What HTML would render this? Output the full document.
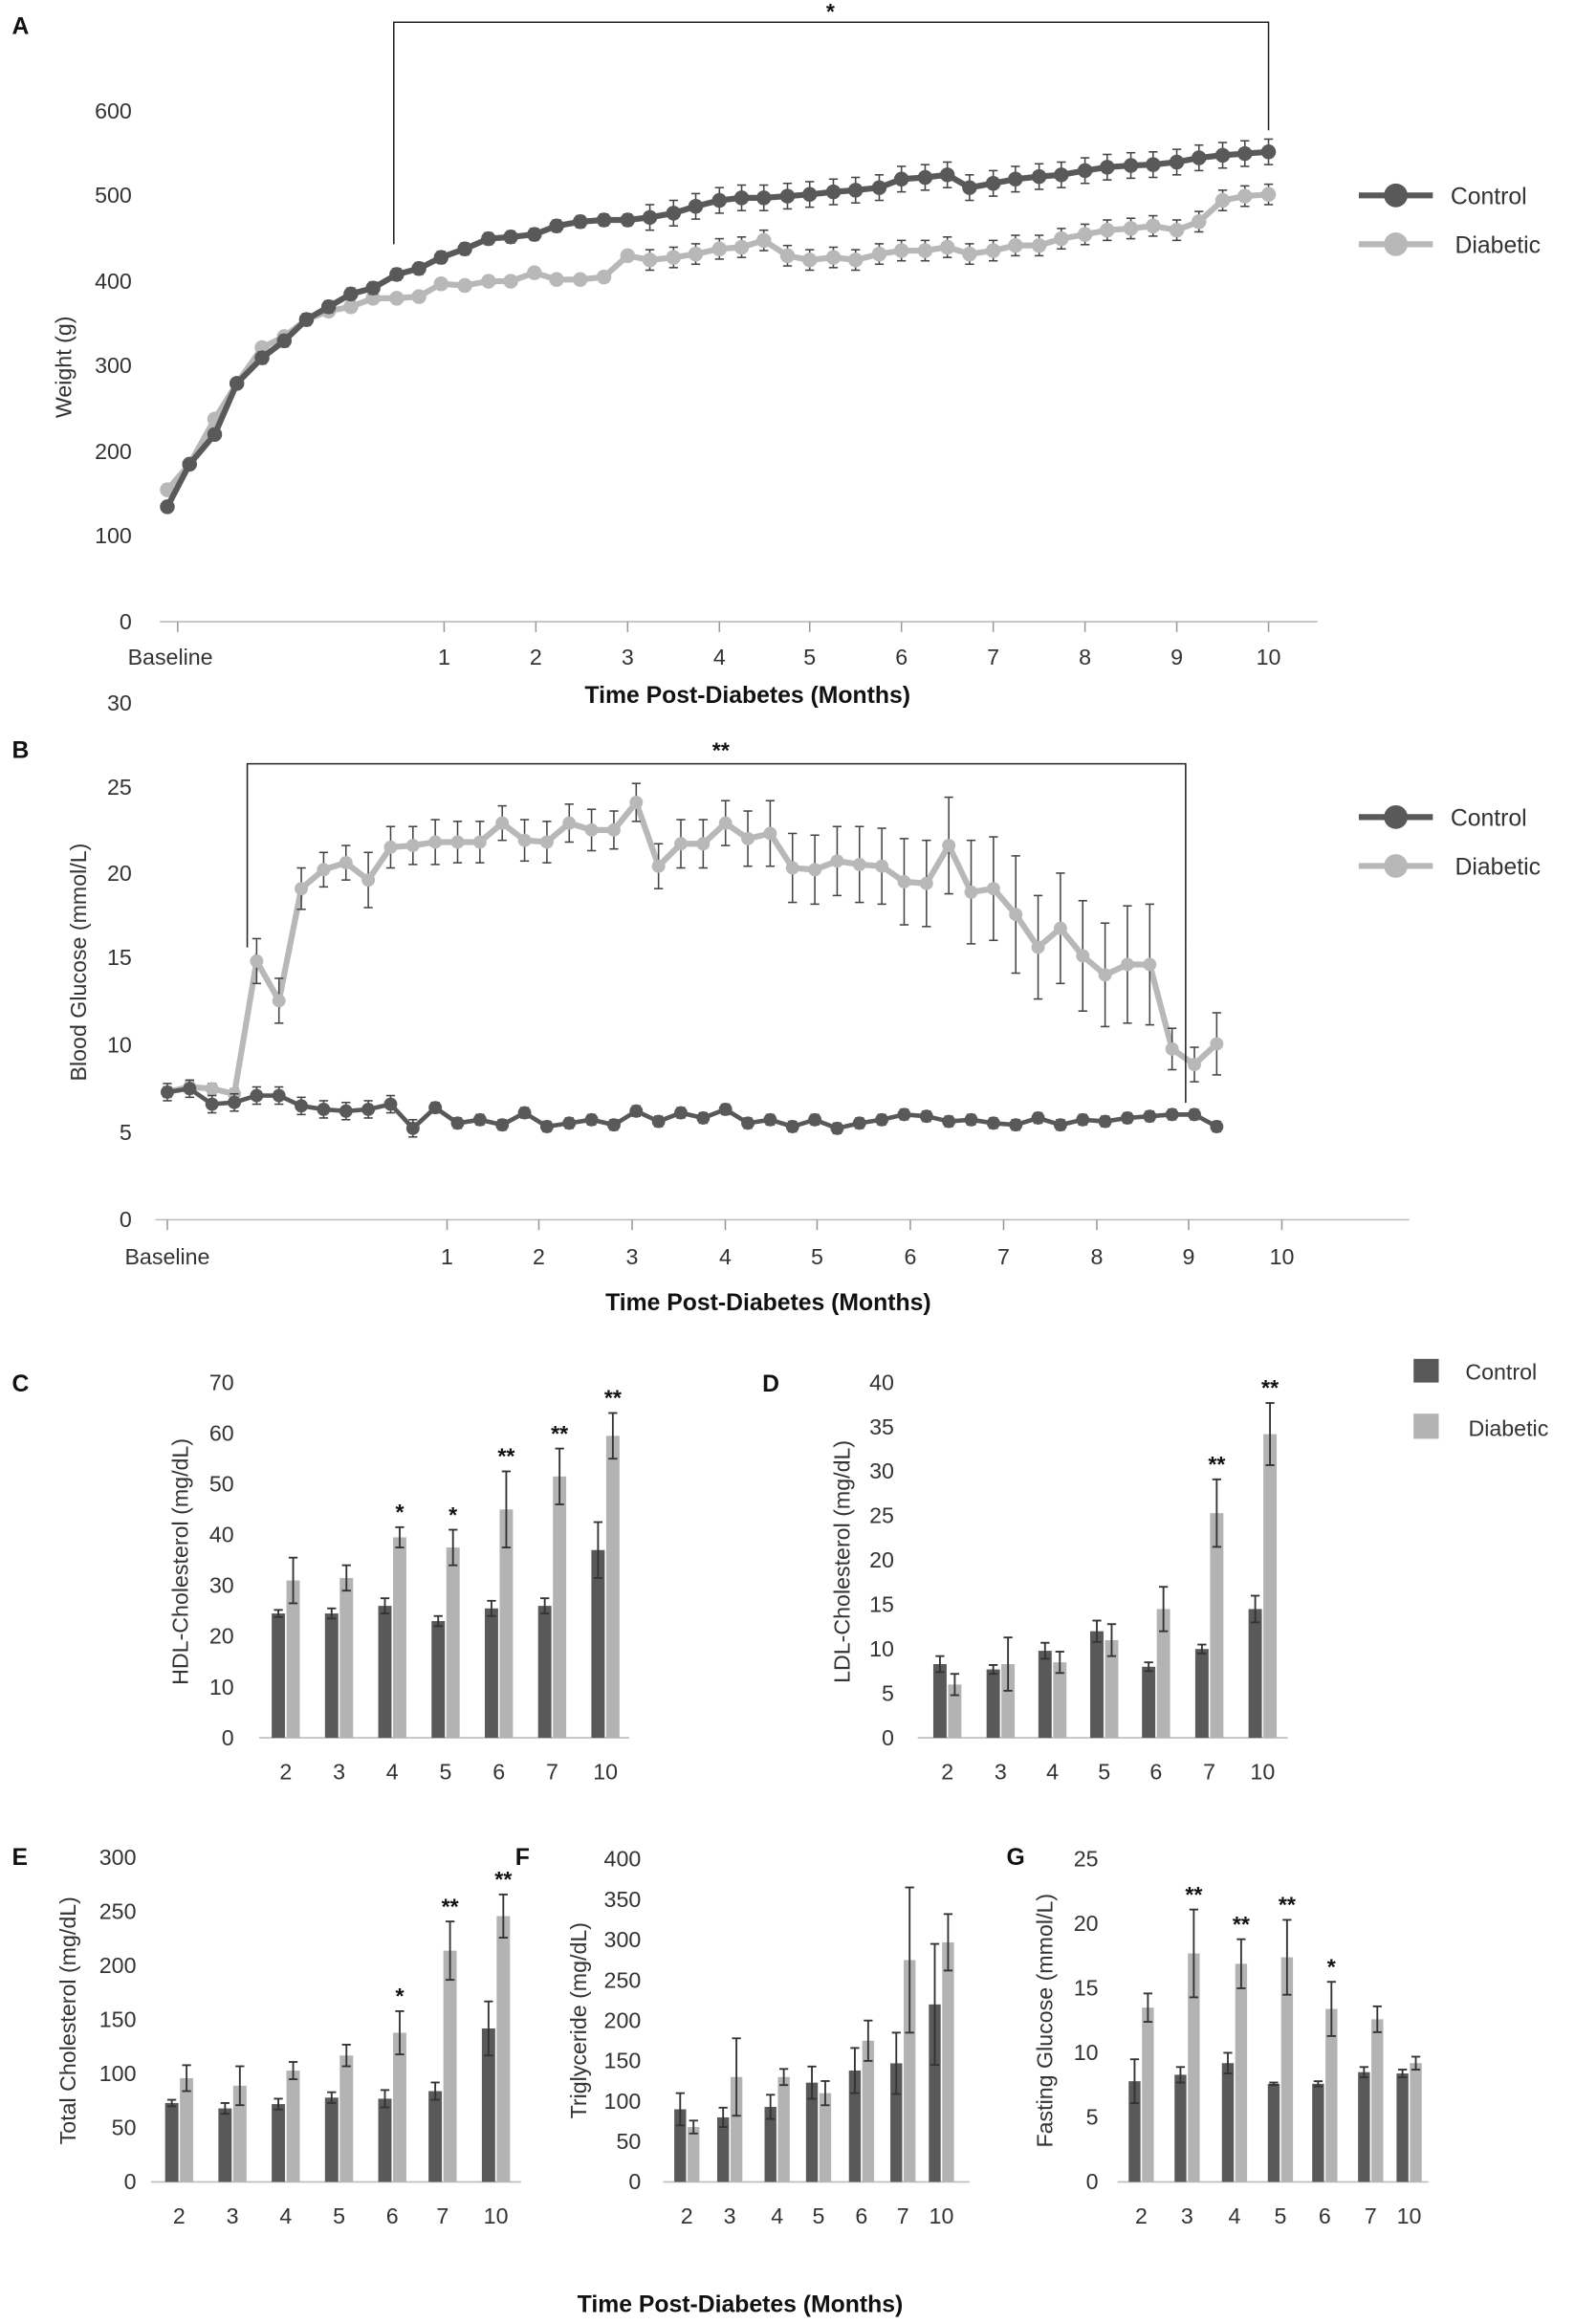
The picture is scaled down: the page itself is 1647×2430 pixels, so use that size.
<!DOCTYPE html>
<html><head><meta charset="utf-8"><style>
html,body{margin:0;padding:0;background:#fff}
svg{display:block}
text{font-family:"Liberation Sans",Arial,sans-serif;fill:#333}
.t{font-size:15px}
.b{font-weight:bold;fill:#111}
</style></head><body>
<svg id="s" width="1647" height="2430" viewBox="0 0 1064 1570" xmlns="http://www.w3.org/2000/svg">
<rect width="1064" height="1570" fill="#fff"/>
<g id="g"></g>
<text x="8" y="23" class="b" font-size="16">A</text>
<text x="8" y="512" class="b" font-size="16">B</text>
<text x="8" y="940" class="b" font-size="16">C</text>
<text x="515" y="940" class="b" font-size="16">D</text>
<text x="8" y="1260" class="b" font-size="16">E</text>
<text x="348" y="1260" class="b" font-size="16">F</text>
<text x="680" y="1260" class="b" font-size="16">G</text>
<g class="t" text-anchor="end">
<text x="89" y="80">600</text><text x="89" y="137">500</text><text x="89" y="195">400</text><text x="89" y="252">300</text><text x="89" y="310">200</text><text x="89" y="367">100</text><text x="89" y="425">0</text>
</g>
<text class="t" transform="translate(48,248) rotate(-90)" text-anchor="middle">Weight (g)</text>
<g class="t" text-anchor="middle">
<text x="115" y="449">Baseline</text><text x="300" y="449">1</text><text x="362" y="449">2</text><text x="424" y="449">3</text><text x="486" y="449">4</text><text x="547" y="449">5</text><text x="609" y="449">6</text><text x="671" y="449">7</text><text x="733" y="449">8</text><text x="795" y="449">9</text><text x="857" y="449">10</text>
</g>
<text x="505" y="475" class="b" font-size="16" text-anchor="middle">Time Post-Diabetes (Months)</text>
<path d="M266 165V15H857V88" fill="none" stroke="#222" stroke-width="1"/>
<text x="561" y="13" class="b" font-size="15" text-anchor="middle">*</text>
<g class="t"><text x="980" y="138" font-size="16">Control</text><text x="983" y="171" font-size="16">Diabetic</text></g>
<line x1="918" y1="132" x2="968" y2="132" stroke="#595959" stroke-width="4"/><circle cx="943" cy="132" r="8" fill="#595959"/>
<line x1="918" y1="165" x2="968" y2="165" stroke="#b8b8b8" stroke-width="4"/><circle cx="943" cy="165" r="8" fill="#b8b8b8"/>
<g class="t" text-anchor="end">
<text x="89" y="480">30</text><text x="89" y="537">25</text><text x="89" y="595">20</text><text x="89" y="652">15</text><text x="89" y="711">10</text><text x="89" y="770">5</text><text x="89" y="829">0</text>
</g>
<text class="t" transform="translate(58,650) rotate(-90)" text-anchor="middle">Blood Glucose (mmol/L)</text>
<g class="t" text-anchor="middle">
<text x="113" y="854">Baseline</text><text x="302" y="854">1</text><text x="364" y="854">2</text><text x="427" y="854">3</text><text x="490" y="854">4</text><text x="552" y="854">5</text><text x="615" y="854">6</text><text x="678" y="854">7</text><text x="741" y="854">8</text><text x="803" y="854">9</text><text x="866" y="854">10</text>
</g>
<text x="519" y="885" class="b" font-size="16" text-anchor="middle">Time Post-Diabetes (Months)</text>
<path d="M167 640V516H801V745" fill="none" stroke="#222" stroke-width="1"/>
<text x="487" y="512" class="b" font-size="15" text-anchor="middle">**</text>
<g class="t"><text x="980" y="558" font-size="16">Control</text><text x="983" y="591" font-size="16">Diabetic</text></g>
<line x1="918" y1="552" x2="968" y2="552" stroke="#595959" stroke-width="4"/><circle cx="943" cy="552" r="8" fill="#595959"/>
<line x1="918" y1="585" x2="968" y2="585" stroke="#b8b8b8" stroke-width="4"/><circle cx="943" cy="585" r="8" fill="#b8b8b8"/>
<rect x="955" y="918" width="17" height="16" fill="#595959"/><rect x="955" y="955" width="17" height="17" fill="#b3b3b3"/>
<text x="990" y="932" class="t" font-size="16">Control</text><text x="992" y="970" class="t" font-size="16">Diabetic</text>
<text class="t" transform="translate(127,1055) rotate(-90)" text-anchor="middle">HDL-Cholesterol (mg/dL)</text>
<text class="t" transform="translate(574,1055) rotate(-90)" text-anchor="middle">LDL-Cholesterol (mg/dL)</text>
<text class="t" transform="translate(51,1365) rotate(-90)" text-anchor="middle">Total Cholesterol (mg/dL)</text>
<text class="t" transform="translate(396,1365) rotate(-90)" text-anchor="middle">Triglyceride (mg/dL)</text>
<text class="t" transform="translate(711,1365) rotate(-90)" text-anchor="middle">Fasting Glucose  (mmol/L)</text>
<text x="500" y="1562" class="b" font-size="16" text-anchor="middle">Time Post-Diabetes (Months)</text>
</svg>
<script>
var g=document.getElementById('g'),NS='http://www.w3.org/2000/svg';
function el(t,a,txt){var e=document.createElementNS(NS,t);for(var k in a)e.setAttribute(k,a[k]);if(txt!=null)e.textContent=txt;g.appendChild(e);return e;}
function line(x1,y1,x2,y2,c,w){el('line',{x1:x1,y1:y1,x2:x2,y2:y2,stroke:c,'stroke-width':w||1});}
line(108,420,890,420,'#bbb',1);
[120,300,362,424,486,547,609,671,733,795,857].forEach(function(x){line(x,420,x,427,'#999',1)});
function ay(v){return 420-v*0.575;}
var cA=[[113,135],[128,185],[145,220],[160,280],[177,310],[192,330],[207,355],[222,370],[237,385],[252,392],[268,408],[283,415],[298,428],[314,438],[330,450],[345,452],[361,455],[376,465],[392,470],[408,472],[424,472],[439,475],[455,480],[470,488],[486,495],[501,498],[516,498],[532,500],[547,502],[563,505],[578,507],[594,510],[609,520],[625,522],[640,525],[655,510],[671,515],[686,520],[702,523],[717,525],[733,530],[748,534],[764,536],[779,537],[795,540],[810,545],[826,548],[841,550],[857,552]];
var dA=[[113,155],[128,185],[145,238],[160,280],[177,322],[192,335],[207,355],[222,365],[237,370],[252,380],[268,380],[283,382],[298,397],[314,395],[330,400],[345,400],[361,410],[376,402],[392,402],[408,405],[424,430],[439,425],[455,428],[470,432],[486,438],[501,440],[516,448],[532,430],[547,425],[563,428],[578,425],[594,432],[609,436],[625,436],[640,440],[655,432],[671,436],[686,442],[702,442],[717,450],[733,455],[748,460],[764,462],[779,465],[795,460],[810,470],[826,495],[841,500],[857,502]];
function series(pts,yf,col,errs,lw,r){
  el('polyline',{points:pts.map(function(p){return p[0]+','+yf(p[1])}).join(' '),fill:'none',stroke:col,'stroke-width':lw});
  pts.forEach(function(p,i){var e=errs(i);if(e>0){var y1=yf(p[1]-e),y2=yf(p[1]+e);line(p[0],y1,p[0],y2,'#444',1);line(p[0]-3,y1,p[0]+3,y1,'#444',1);line(p[0]-3,y2,p[0]+3,y2,'#444',1);}
  el('circle',{cx:p[0],cy:yf(p[1]),r:r,fill:col});});
}
series(dA,ay,'#b8b8b8',function(i){return i>20?12:(i>3?6:4)},4,5);
series(cA,ay,'#595959',function(i){return i>20?15:(i>3?7:4)},4,5);
line(105,824,952,824,'#bbb',1);
[113,302,364,427,490,552,615,678,741,803,866].forEach(function(x){line(x,824,x,831,'#999',1)});
function by(v){return 824-v*11.65;}
var cv=[7.4,7.6,6.7,6.8,7.2,7.2,6.6,6.4,6.3,6.4,6.7,5.3,6.5,5.6,5.8,5.5,6.2,5.4,5.6,5.8,5.5,6.3,5.7,6.2,5.9,6.4,5.6,5.8,5.4,5.8,5.3,5.6,5.8,6.1,6.0,5.7,5.8,5.6,5.5,5.9,5.5,5.8,5.7,5.9,6.0,6.1,6.1,5.4];
var dv=[7.4,7.7,7.6,7.3,15,12.7,19.2,20.3,20.7,19.7,21.6,21.7,21.9,21.9,21.9,23,22,21.9,23,22.6,22.6,24.2,20.5,21.8,21.8,23,22.1,22.4,20.4,20.3,20.8,20.6,20.5,19.6,19.5,21.7,19,19.2,17.7,15.8,16.9,15.3,14.2,14.8,14.8,9.9,9,10.2];
var de=[0.3,0.3,0.3,0.3,1.3,1.3,1.2,1,1,1.6,1.2,1.1,1.3,1.2,1.2,1,1.2,1.2,1.1,1.2,1.1,1.1,1.3,1.4,1.4,1.3,1.6,1.9,2,2,2,2.2,2.2,2.5,2.5,2.8,3,3,3.4,3,3.2,3.2,3,3.4,3.5,1.2,1,1.8];
var sp=(822-113)/47;
series(dv.map(function(v,i){return [113+i*sp,v]}),by,'#b8b8b8',function(i){return de[i]},4,4.5);
series(cv.map(function(v,i){return [113+i*sp,v]}),by,'#595959',function(i){return i<12?0.5:0.3},3,4.5);
function bars(o){
  var y0=o.y0,k=o.k;
  line(o.ax0,y0,o.ax1,y0,'#bbb',1);
  o.ticks.forEach(function(t){el('text',{x:o.tx,y:y0-t*k+5,'text-anchor':'end','class':'t'},String(t));});
  o.cats.forEach(function(x,i){
    el('text',{x:x,y:y0+28,'text-anchor':'middle','class':'t'},o.lab[i]);
    var w=o.w,cx=x-o.off,dx=x+o.off;
    [[cx,o.c[i],o.ce[i],'#595959'],[dx,o.d[i],o.de[i],'#b3b3b3']].forEach(function(b){
      var h=b[1]*k;el('rect',{x:b[0]-w/2,y:y0-h,width:w,height:h,fill:b[3]});
      var y1=y0-(b[1]-b[2])*k,y2=y0-(b[1]+b[2])*k;line(b[0],y1,b[0],y2,'#333',1.2);line(b[0]-3,y1,b[0]+3,y1,'#333',1.2);line(b[0]-3,y2,b[0]+3,y2,'#333',1.2);
    });
    if(o.st[i]){el('text',{x:dx,y:y0-(o.d[i]+o.de[i])*k-5,'text-anchor':'middle','class':'b','font-size':'15'},o.st[i]);}
  });
}
var L=['2','3','4','5','6','7','10'];
bars({y0:1174,k:240/70,ax0:175,ax1:425,tx:158,ticks:[0,10,20,30,40,50,60,70],cats:[193,229,265,301,337,373,409],lab:L,w:9,off:5,
 c:[24.5,24.5,26,23,25.5,26,37],d:[31,31.5,39.5,37.5,45,51.5,59.5],ce:[.7,1,1.5,1,1.5,1.5,5.5],de:[4.5,2.5,2,3.5,7.5,5.5,4.5],st:['','','*','*','**','**','**']});
bars({y0:1174,k:6,ax0:620,ax1:870,tx:604,ticks:[0,5,10,15,20,25,30,35,40],cats:[640,676,711,746,781,817,853],lab:L,w:9,off:5,
 c:[8.3,7.7,9.8,12,8,10,14.5],d:[6,8.3,8.5,11,14.5,25.3,34.2],ce:[.9,.5,.9,1.2,.5,.5,1.5],de:[1.2,3,1.2,1.8,2.5,3.8,3.5],st:['','','','','','**','**']});
bars({y0:1474,k:219/300,ax0:102,ax1:352,tx:92,ticks:[0,50,100,150,200,250,300],cats:[121,157,193,229,265,299,335],lab:L,w:9,off:5,
 c:[73,68,72,78,77,84,142],d:[96,89,103,117,138,214,246],ce:[3,5,5,5,8,8,25],de:[12,18,8,10,20,27,20],st:['','','','','*','**','**']});
bars({y0:1474,k:218/400,ax0:448,ax1:655,tx:433,ticks:[0,50,100,150,200,250,300,350,400],cats:[464,493,525,553,582,610,636],lab:L,w:8,off:4.5,
 c:[90,80,93,123,138,147,220],d:[68,130,130,110,175,275,297],ce:[20,12,15,20,28,38,75],de:[8,48,10,15,25,90,35],st:['','','','','','','']});
bars({y0:1474,k:218/25,ax0:755,ax1:965,tx:742,ticks:[0,5,10,15,20,25],cats:[771,802,834,865,895,926,952],lab:L,w:8,off:4.5,
 c:[7.8,8.3,9.2,7.6,7.6,8.5,8.4],d:[13.5,17.7,16.9,17.4,13.4,12.6,9.2],ce:[1.7,.6,.8,.1,.2,.4,.3],de:[1.1,3.4,1.9,2.9,2.1,1,.5],st:['','**','**','**','*','','']});
</script>
</body></html>
